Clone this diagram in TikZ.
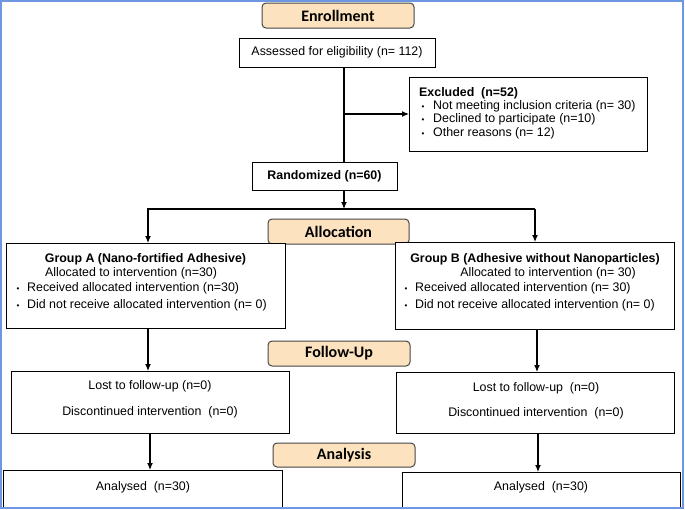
\documentclass[tikz,border=0pt]{standalone}
\usepackage{fontspec}
\setmainfont{Liberation Sans}
\newfontfamily\hdrfont{Carlito}
\usetikzlibrary{arrows.meta}
\definecolor{framecol}{RGB}{110,150,225}
\definecolor{hdrfill}{RGB}{252,226,190}
\definecolor{hdrline}{RGB}{70,70,70}
\tikzset{
  box/.style={draw=black, line width=1pt, fill=white, inner sep=0pt, outer sep=0pt, font=\fontsize{12.4}{14}\selectfont},
  hdr/.style={draw=hdrline, line width=1pt, fill=hdrfill, rounded corners=4pt, inner sep=0pt, outer sep=0pt, font=\hdrfont\bfseries\fontsize{16}{18}\selectfont},
  txt/.style={inner sep=0pt, font=\fontsize{12.4}{14}\selectfont},
  btxt/.style={inner sep=0pt, font=\fontsize{12.4}{14}\selectfont\bfseries},
  bul/.style={inner sep=0pt, font=\fontsize{8}{8}\selectfont},
  conn/.style={line width=1.2pt, draw=black},
  arr/.style={conn, -{Latex[length=7pt,width=6pt]}},
}
\begin{document}
\begin{tikzpicture}[x=1pt,y=-1pt]
\useasboundingbox (0,0) rectangle (685,509);

% header boxes
\node[hdr, minimum width=152pt, minimum height=25pt] (enroll) at (338,15.5) {Enrollment};
\node[hdr, minimum width=141pt, minimum height=25pt] (alloc) at (338.5,231.5) {Allocation};
\node[hdr, minimum width=142pt, minimum height=25pt] (follow) at (339,353.5) {Follow-Up};
\node[hdr, minimum width=142pt, minimum height=24pt] (analysis) at (344,455) {Analysis};

% simple boxes
\node[box, minimum width=196pt, minimum height=29pt] (assess) at (337,52.5) {Assessed for eligibility (n= 112)};
\node[box, minimum width=145pt, minimum height=28pt, font=\fontsize{12.4}{14}\selectfont\bfseries] (rand) at (324.5,176) {Randomized (n=60)};

% excluded
\node[box, minimum width=238pt, minimum height=74pt] (excl) at (528,114) {};
\node[btxt, anchor=base west] (exT) at (419,96) {Excluded\ \ (n=52)};
\node[bul, anchor=base] (exb1) at (423,109.5) {\textbullet};
\node[txt, anchor=base west] (ex1) at (433,109.5) {Not meeting inclusion criteria (n= 30)};
\node[bul, anchor=base] (exb2) at (423,122.5) {\textbullet};
\node[txt, anchor=base west] (ex2) at (433,122.5) {Declined to participate (n=10)};
\node[bul, anchor=base] (exb3) at (423,136) {\textbullet};
\node[txt, anchor=base west] (ex3) at (433,136) {Other reasons (n= 12)};

% group A
\node[box, minimum width=279pt, minimum height=85pt] (grpA) at (145.5,285.5) {};
\node[btxt, anchor=base] (gAt) at (145.5,262) {Group A (Nano-fortified Adhesive)};
\node[txt, anchor=base] (gAa) at (131,276) {Allocated to intervention (n=30)};
\node[bul, anchor=base] (gAb1) at (18,291) {\textbullet};
\node[txt, anchor=base west] (gAr) at (27,291) {Received allocated intervention (n=30)};
\node[bul, anchor=base] (gAb2) at (18,308) {\textbullet};
\node[txt, anchor=base west] (gAd) at (27,308) {Did not receive allocated intervention (n= 0)};

% group B
\node[box, minimum width=279pt, minimum height=87pt] (grpB) at (534.5,285.5) {};
\node[btxt, anchor=base] (gBt) at (535,262) {Group B (Adhesive without Nanoparticles)};
\node[txt, anchor=base] (gBa) at (548,276) {Allocated to intervention (n= 30)};
\node[bul, anchor=base] (gBb1) at (406,291) {\textbullet};
\node[txt, anchor=base west] (gBr) at (415,291) {Received allocated intervention (n= 30)};
\node[bul, anchor=base] (gBb2) at (406,308) {\textbullet};
\node[txt, anchor=base west] (gBd) at (415,308) {Did not receive allocated intervention (n= 0)};

% follow-up boxes
\node[box, minimum width=278pt, minimum height=62pt] (lostA) at (150,402) {};
\node[txt, anchor=base] (lAl) at (150,389) {Lost to follow-up (n=0)};
\node[txt, anchor=base] (lAd) at (150,415) {Discontinued intervention\ \ (n=0)};
\node[box, minimum width=278pt, minimum height=61pt] (lostB) at (535,402.5) {};
\node[txt, anchor=base] (lBl) at (536,391) {Lost to follow-up\ \ (n=0)};
\node[txt, anchor=base] (lBd) at (536,416) {Discontinued intervention\ \ (n=0)};

% analysed boxes
\node[box, minimum width=279pt, minimum height=37pt] (anaA) at (142.5,488.5) {};
\node[txt, anchor=base] (aAt) at (143,490) {Analysed\ \ (n=30)};
\node[box, minimum width=278pt, minimum height=35pt] (anaB) at (541,489.5) {};
\node[txt, anchor=base] (aBt) at (541,490) {Analysed\ \ (n=30)};

% connectors
\coordinate (trunk) at (344,114);
\draw[conn] (assess.south -| trunk) -- (rand.north -| trunk);
\draw[arr] (trunk) -- (excl.west |- trunk);
\coordinate (split) at (344,209);
\draw[arr] (rand.south -| split) -- (split);
\coordinate (sA) at (148,209);
\coordinate (sB) at (535,209);
\draw[arr] (sB) -- (sA) -- (grpA.north -| sA);
\draw[arr] (sB) -- (grpB.north -| sB);
\draw[arr] (grpA.south -| sA) -- (lostA.north -| sA);
\draw[arr] (lostA.south) -- (anaA.north -| lostA.south);
\coordinate (fB) at (537,0);
\draw[arr] (grpB.south -| fB) -- (lostB.north -| fB);
\coordinate (gB) at (538,0);
\draw[arr] (lostB.south -| gB) -- (anaB.north -| gB);

% outer frame
\draw[framecol, line width=2pt] (1,1) rectangle (683,507.5);
\end{tikzpicture}
\end{document}
